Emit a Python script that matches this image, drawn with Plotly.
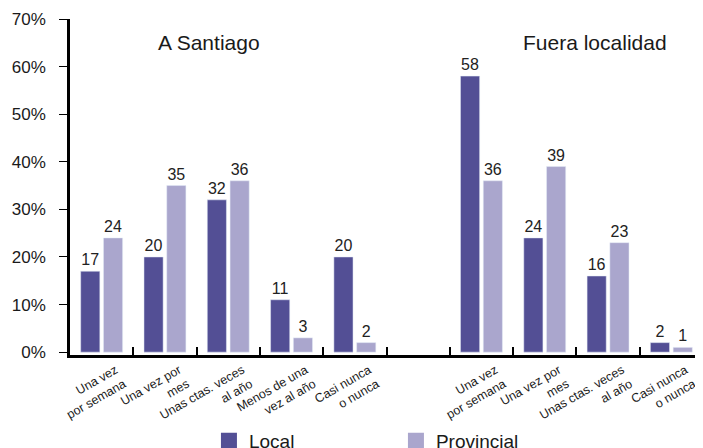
import plotly.graph_objects as go

LOCAL_COLOR = "#534f95"
PROV_COLOR = "#aaa6cd"
FONT = "Liberation Sans, Arial, sans-serif"

# data
left_cats = ["Una vez<br>por semana", "Una vez por<br>mes", "Unas ctas. veces<br>al año",
             "Menos de una<br>vez al año", "Casi nunca<br>o nunca"]
right_cats = ["Una vez<br>por semana", "Una vez por<br>mes", "Unas ctas. veces<br>al año",
              "Casi nunca<br>o nunca"]
left_local = [17, 20, 32, 11, 20]
left_prov = [24, 35, 36, 3, 2]
right_local = [58, 24, 16, 2]
right_prov = [36, 39, 23, 1]
group_titles = ["A Santiago", "Fuera localidad"]
y_ticks = [0, 10, 20, 30, 40, 50, 60, 70]

# positions: left group, one empty slot, right group
left_x = list(range(len(left_cats)))
right_x = [len(left_cats) + 1 + i for i in range(len(right_cats))]
n_slots = len(left_cats) + 1 + len(right_cats)

fig = go.Figure()
fig.add_trace(go.Bar(
    x=left_x + right_x, y=left_local + right_local,
    text=[str(v) for v in left_local + right_local],
    marker_color=LOCAL_COLOR, showlegend=False,
))
fig.add_trace(go.Bar(
    x=left_x + right_x, y=left_prov + right_prov,
    text=[str(v) for v in left_prov + right_prov],
    marker_color=PROV_COLOR, showlegend=False,
))
fig.update_traces(textposition="outside", cliponaxis=False,
                  textfont=dict(family=FONT, size=16, color="#222222"))

# legend entries with larger squares
for name, color in [("Local", LOCAL_COLOR), ("Provincial", PROV_COLOR)]:
    fig.add_trace(go.Scatter(
        x=[None], y=[None], mode="markers", name=name,
        marker=dict(symbol="square", size=17, color=color),
    ))

fig.add_annotation(text=group_titles[0], x=(left_x[0] + left_x[-1]) / 2 - 0.3, y=65,
                   xref="x", yref="y", showarrow=False,
                   font=dict(family=FONT, size=21, color="#1a1a1a"))
fig.add_annotation(text=group_titles[1], x=(right_x[0] + right_x[-1]) / 2 + 0.3, y=65,
                   xref="x", yref="y", showarrow=False,
                   font=dict(family=FONT, size=21, color="#1a1a1a"))

fig.update_layout(
    width=695, height=460,
    margin=dict(l=62, r=0, t=11, b=113, autoexpand=False),
    plot_bgcolor="white", paper_bgcolor="white",
    barmode="group", bargap=0.28, bargroupgap=0.16,
    font=dict(family=FONT, size=14, color="#1a1a1a"),
    legend=dict(orientation="h", x=0.2195, y=-0.199, xanchor="left", yanchor="top",
                entrywidthmode="pixels", entrywidth=142,
                font=dict(family=FONT, size=19, color="#1a1a1a")),
)
fig.update_xaxes(
    range=[-0.5, n_slots - 0.5], automargin=False,
    tickmode="array", tickvals=left_x + right_x, ticktext=left_cats + right_cats,
    tickangle=-30, ticks="", showgrid=False, zeroline=False,
    ticklabelshift=14, ticklabelstandoff=0, ticklabeloverflow="allow",
    tickfont=dict(family=FONT, size=12.5, color="#1a1a1a"),
    showline=True, linecolor="black", linewidth=3,
    minor=dict(tickmode="array", tickvals=[i + 0.5 for i in range(n_slots - 1)],
               ticks="inside", ticklen=8, tickwidth=2, tickcolor="black", showgrid=False),
)
fig.update_yaxes(
    range=[-0.6, 70], automargin=False,
    tickmode="array", tickvals=y_ticks, ticktext=[f"{v}%" for v in y_ticks],
    ticks="outside", ticklen=8, tickwidth=1, tickcolor="black",
    ticklabelstandoff=10,
    showgrid=False, zeroline=False,
    showline=True, linecolor="black", linewidth=2.5,
    tickfont=dict(family=FONT, size=17, color="#1a1a1a"),
)

fig.write_html("out.html")
